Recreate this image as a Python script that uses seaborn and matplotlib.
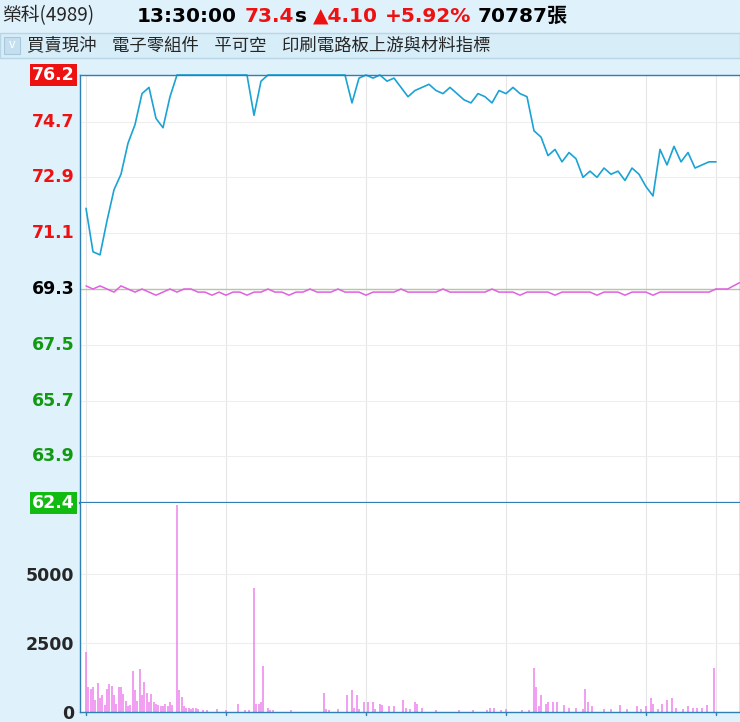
import matplotlib
matplotlib.use("Agg")
import matplotlib.pyplot as plt
import seaborn as sns
import pandas as pd

# minutes after 09:00, every 3 minutes
minutes = list(range(0, 271, 3))
price = [71.9, 70.5, 70.4, 71.5, 72.5, 73.0, 74.0, 74.6, 75.6, 75.8,
         74.8, 74.5, 75.5, 76.2,
         76.2, 76.2, 76.2, 76.2, 76.2, 76.2, 76.2, 76.2, 76.2, 76.2,
         74.9, 76.0,
         76.2, 76.2, 76.2, 76.2, 76.2, 76.2, 76.2, 76.2, 76.2, 76.2, 76.2, 76.2,
         75.3, 76.1, 76.2, 76.1, 76.2, 76.0, 76.1, 75.8, 75.5, 75.7, 75.8, 75.9,
         75.7, 75.6, 75.8, 75.6, 75.4, 75.3, 75.6, 75.5, 75.3, 75.7, 75.6, 75.8,
         75.6, 75.5, 74.4, 74.2, 73.6, 73.8, 73.4, 73.7, 73.5, 72.9, 73.1, 72.9,
         73.2, 73.0, 73.1, 72.8, 73.2, 73.0, 72.6, 72.3, 73.8, 73.3, 73.9, 73.4,
         73.7, 73.2, 73.3, 73.4, 73.4]
avg_line = [69.4, 69.3, 69.4, 69.3, 69.2, 69.4, 69.3, 69.2, 69.3, 69.2,
            69.1, 69.2, 69.3, 69.2, 69.3, 69.3, 69.2, 69.2, 69.1, 69.2,
            69.1, 69.2, 69.2, 69.1, 69.2, 69.2, 69.3, 69.2, 69.2, 69.1,
            69.2, 69.2, 69.3, 69.2, 69.2, 69.2, 69.3, 69.2, 69.2, 69.2,
            69.1, 69.2, 69.2, 69.2, 69.2, 69.3, 69.2, 69.2, 69.2, 69.2,
            69.2, 69.3, 69.2, 69.2, 69.2, 69.2, 69.2, 69.2, 69.3, 69.2,
            69.2, 69.2, 69.1, 69.2, 69.2, 69.2, 69.2, 69.1, 69.2, 69.2,
            69.2, 69.2, 69.2, 69.1, 69.2, 69.2, 69.2, 69.1, 69.2, 69.2,
            69.2, 69.1, 69.2, 69.2, 69.2, 69.2, 69.2, 69.2, 69.2, 69.2, 69.3]
avg_tail_min = [270, 275, 280]
avg_tail = [69.3, 69.3, 69.5]

vol_min = [0, 1, 2, 3, 4, 5, 6, 7, 8, 9, 10, 11, 12, 13, 14, 15, 16, 17, 18, 19,
           20, 21, 22, 23, 24, 25, 26, 27, 28, 29, 30, 31, 32, 33, 34, 35, 36, 37,
           39, 40, 41, 42, 43, 44, 45, 46, 47, 48, 50, 52, 56, 60, 65, 68, 70,
           72, 73, 74, 75, 76, 78, 79, 80, 88, 102, 103, 104, 108, 112, 114, 115,
           116, 117, 119, 121, 123, 124, 126, 127, 130, 132, 136, 137, 139, 141,
           142, 144, 150, 160, 166, 172, 173, 175, 178, 180, 187, 190, 192, 193,
           194, 195, 197, 198, 200, 202, 205, 207, 210, 213, 214, 215, 217, 222,
           225, 229, 232, 236, 238, 240, 242, 243, 245, 247, 249, 251, 253, 256,
           258, 260, 262, 264, 266, 269]
vol = [2160, 900, 850, 900, 450, 1050, 500, 600, 250, 850, 1000, 950, 600, 300,
       900, 900, 650, 400, 200, 250, 1500, 800, 400, 1550, 600, 1100, 700, 350,
       650, 350, 300, 250, 200, 200, 300, 200, 350, 250,
       7500, 800, 550, 200, 150, 150, 100, 150, 150, 100, 60, 60, 100, 60, 300,
       60, 60, 4500, 300, 300, 350, 1650, 150, 60, 60, 60, 700, 100, 80, 120,
       600, 800, 150, 600, 100, 350, 350, 350, 100, 300, 250, 200, 200, 450, 150,
       100, 350, 300, 150, 60, 60, 60, 80, 150, 150, 80, 100, 60, 60, 1600, 900,
       200, 600, 300, 350, 350, 350, 250, 150, 150, 100, 850, 350, 200, 100, 100,
       250, 100, 200, 100, 200, 500, 300, 100, 300, 450, 500, 150, 100, 200, 150,
       150, 150, 250, 1600]

price_ticks = [76.2, 74.7, 72.9, 71.1, 69.3, 67.5, 65.7, 63.9, 62.4]
vol_ticks = [0, 2500, 5000]
hour_ticks = [0, 60, 120, 180, 240, 270]

sns.set_theme(style="white")
plt.rcParams['font.family'] = ['Noto Sans CJK TC', 'DejaVu Sans']
latin = ['DejaVu Sans', 'Noto Sans CJK TC']

bg = "#dff1fb"
fig = plt.figure(figsize=(7.4, 7.22), dpi=100, facecolor=bg)
W, H = 740, 722
xlim = (-6 * 60 / 140, (740 - 86) * 60 / 140)

ax = fig.add_axes([80 / W, 1 - 503 / H, 660 / W, 428 / H])
axv = fig.add_axes([80 / W, 10 / H, 660 / W, 209 / H])

df = pd.DataFrame({"minute": minutes, "price": price, "avg": avg_line})
tail = pd.DataFrame({"minute": avg_tail_min, "avg": avg_tail})
ax.axhline(69.3, color="#b5c9a0", lw=1)
sns.lineplot(data=df, x="minute", y="price", ax=ax, color="#1aa3d4", lw=1.2)
sns.lineplot(data=df, x="minute", y="avg", ax=ax, color="#e060e0", lw=1.1)
sns.lineplot(data=tail, x="minute", y="avg", ax=ax, color="#e060e0", lw=1.1)
for ln in ax.lines:
    ln.set_clip_on(False)
ax.set_xlim(*xlim)
ax.set_ylim(62.4, 76.2)

axv.vlines(vol_min, 0, vol, color="#ee82ee", lw=1.1)
axv.set_xlim(*xlim)
axv.set_ylim(0, 7572)

for a in (ax, axv):
    a.set_facecolor("white")
    a.set_xlabel("")
    a.set_ylabel("")
    for t in hour_ticks:
        a.axvline(t, color="#e6e6e6", lw=0.8, zorder=0)
    for s in a.spines.values():
        s.set_color("#2f7fb5")
        s.set_linewidth(1)
    a.set_xticks([])

ax.spines["bottom"].set_linewidth(1.6)
axv.spines["top"].set_visible(False)

ax.set_yticks(price_ticks)
for v in price_ticks:
    ax.axhline(v, color="#eeeeee", lw=0.8, zorder=0)
ax.set_yticklabels([])
for v in price_ticks:
    if v == 76.2:
        kw = dict(color="white", bbox=dict(fc="#ee1111", ec="none", pad=1.5))
    elif v == 62.4:
        kw = dict(color="white", bbox=dict(fc="#11bb11", ec="none", pad=1.5))
    elif v > 69.3:
        kw = dict(color="#ee1111")
    elif v < 69.3:
        kw = dict(color="#119911")
    else:
        kw = dict(color="black")
    ax.text(-0.008, v, f"{v:.1f}", transform=ax.get_yaxis_transform(),
            ha="right", va="center", fontsize=12.5, fontweight="bold",
            family="DejaVu Sans", **kw)
ax.tick_params(axis="y", length=0)

axv.set_yticks(vol_ticks)
axv.set_yticklabels([str(v) for v in vol_ticks], fontsize=12.5,
                    fontweight="bold", family="DejaVu Sans")
for v in vol_ticks:
    axv.axhline(v, color="#eeeeee", lw=0.8, zorder=0)
axv.tick_params(axis="y", length=0, pad=4)
for t in hour_ticks:
    axv.plot([t, t], [-0.015, 0.0], transform=axv.get_xaxis_transform(),
             color="#2f7fb5", lw=1, clip_on=False)

# header: pieces laid out one after another
y1 = 1 - 16 / H
fig.text(2 / W, y1, "榮科(4989)", fontsize=13.5, va="center")
parts = [("13:30:00", "black", 8), ("73.4", "#ee1111", 0), ("s", "black", 6),
         ("▲4.10", "#ee1111", 7), ("+5.92%", "#ee1111", 7), ("70787張", "black", 0)]
renderer = fig.canvas.get_renderer()
x = 137
for s, c, gap in parts:
    t = fig.text(x / W, y1, s, fontsize=14.5, fontweight="bold", color=c, va="center",
                 family=latin)
    x += t.get_window_extent(renderer).width + gap

bar = plt.Rectangle((0, 1 - 58 / H), 1, 25 / H, transform=fig.transFigure,
                    fc="#d7edf8", ec="#b9d6e6", lw=1)
fig.add_artist(bar)
box = plt.Rectangle((4 / W, 1 - 54 / H), 16 / W, 17 / H, transform=fig.transFigure,
                    fc="#c5dff0", ec="#a9c8dc", lw=0.8)
fig.add_artist(box)
fig.text(12 / W, 1 - 45 / H, "v", fontsize=9, color="white", ha="center", va="center")
fig.text(27 / W, 1 - 45 / H, "買賣現沖    電子零組件    平可空    印刷電路板上游與材料指標",
         fontsize=12.5, va="center")

fig.savefig("out.png", dpi=100, facecolor=bg)
